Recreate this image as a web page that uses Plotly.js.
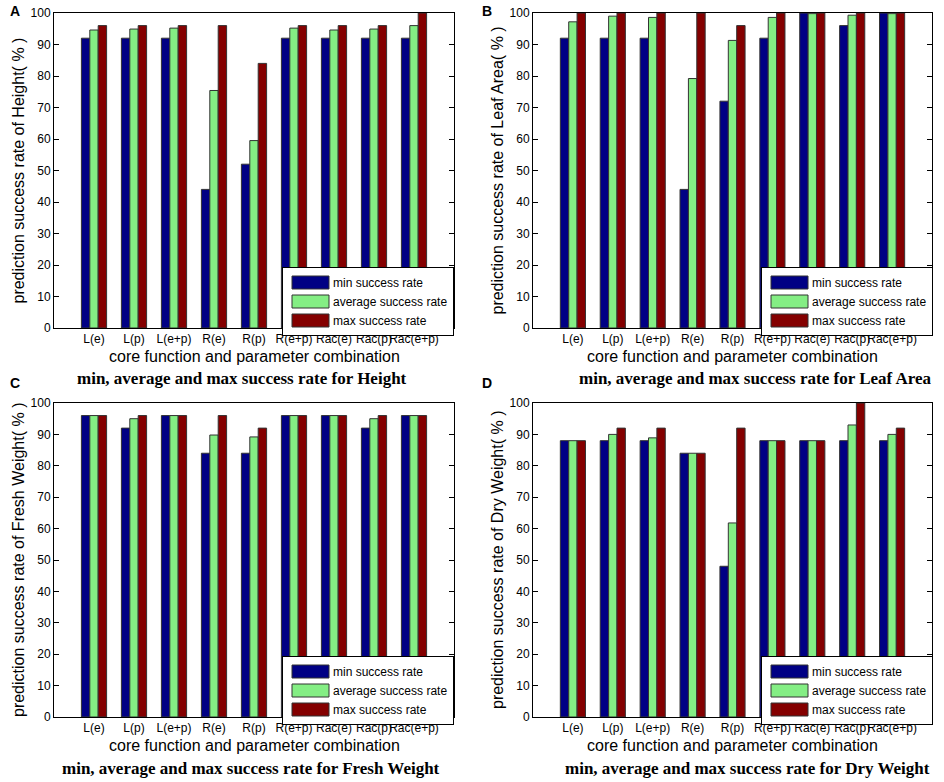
<!DOCTYPE html>
<html>
<head>
<meta charset="utf-8">
<script src="https://cdn.plot.ly/plotly-3.0.1.min.js"></script>
<style>html,body{margin:0;padding:0;background:#fff;}#chart{width:944px;height:782px;}</style>
</head>
<body>
<div id="chart"></div>
<script>
// ---- data ----
const categories = ["L(e)", "L(p)", "L(e+p)", "R(e)", "R(p)", "R(e+p)", "Rac(e)", "Rac(p)", "Rac(e+p)"];
const seriesNames = ["min success rate", "average success rate", "max success rate"];
const yTicks = [0, 10, 20, 30, 40, 50, 60, 70, 80, 90, 100];

const heightMin = [92, 92, 92, 44, 52, 92, 92, 92, 92];
const heightAvg = [94.6, 94.9, 95.2, 75.4, 59.5, 95.2, 94.6, 94.9, 96];
const heightMax = [96, 96, 96, 96, 84, 96, 96, 96, 100];

const leafMin = [92, 92, 92, 44, 72, 92, 100, 96, 100];
const leafAvg = [97.2, 99, 98.6, 79.2, 91.3, 98.6, 99.8, 99.3, 99.8];
const leafMax = [100, 100, 100, 100, 96, 100, 100, 100, 100];

const freshMin = [96, 92, 96, 84, 84, 96, 96, 92, 96];
const freshAvg = [96, 95, 96, 89.8, 89.2, 96, 96, 95, 96];
const freshMax = [96, 96, 96, 96, 92, 96, 96, 96, 96];

const dryMin = [88, 88, 88, 84, 48, 88, 88, 88, 88];
const dryAvg = [88, 90, 88.9, 84, 61.8, 88, 88, 93, 90];
const dryMax = [88, 92, 92, 84, 92, 88, 88, 100, 92];

const panelLetters = ["A", "B", "C", "D"];
const yTitles = ["prediction success rate of Height( % )", "prediction success rate of Leaf Area( % )",
                 "prediction success rate of Fresh Weight( % )", "prediction success rate of Dry Weight( % )"];
const xTitle = "core function and parameter combination";
const bottomTitles = ["min, average and max success rate for Height", "min, average and max success rate for Leaf Area",
                      "min, average and max success rate for Fresh Weight", "min, average and max success rate for Dry Weight"];

// ---- styling ----
const W = 944, H = 782;
const colors = ["#000084", "#84EE84", "#840000"];
const panels = [
  {vals: [heightMin, heightAvg, heightMax], px: [54, 454], py: [13, 328], leg: [282, 267], yt: 18, lt: [8, 11], bt: [242, 379]},
  {vals: [leafMin, leafAvg, leafMax],       px: [533, 932], py: [13, 328], leg: [761, 267], yt: 497, lt: [480, 11], bt: [755, 379]},
  {vals: [freshMin, freshAvg, freshMax],    px: [54, 454], py: [403, 717], leg: [282, 656], yt: 18, lt: [8, 383], bt: [251, 768]},
  {vals: [dryMin, dryAvg, dryMax],          px: [533, 932], py: [403, 717], leg: [761, 656], yt: 497, lt: [480, 383], bt: [747, 768]}
];

const font = "Arial, 'Liberation Sans', sans-serif";
const data = [];
const layout = {
  width: W, height: H,
  margin: {l: 0, r: 0, t: 0, b: 0},
  paper_bgcolor: "#fff", plot_bgcolor: "#fff",
  barmode: "group", bargap: 0.37, bargroupgap: 0,
  font: {family: font, color: "#000", size: 12},
  showlegend: true,
  annotations: []
};

panels.forEach((p, i) => {
  const n = i === 0 ? "" : String(i + 1);
  const xa = "x" + n, ya = "y" + n;
  const legName = i === 0 ? "legend" : "legend" + (i + 1);
  p.vals.forEach((v, s) => {
    data.push({
      type: "bar", x: categories, y: v, name: seriesNames[s],
      xaxis: xa, yaxis: ya, legend: legName,
      marker: {color: colors[s], line: {color: "#333", width: 1}},
      hoverinfo: "x+y+name"
    });
  });
  layout["xaxis" + n] = {
    domain: [p.px[0] / W, p.px[1] / W], anchor: ya,
    type: "category", range: [-1, 9],
    showline: true, linecolor: "#000", linewidth: 1, mirror: true,
    ticks: "", showgrid: false, zeroline: false, tickangle: 0,
    tickfont: {family: font, size: 12, color: "#000"},
    automargin: false, fixedrange: true
  };
  layout["yaxis" + n] = {
    domain: [1 - p.py[1] / H, 1 - p.py[0] / H], anchor: xa,
    range: [0, 100], tickvals: yTicks,
    showline: true, linecolor: "#000", linewidth: 1, mirror: "ticks",
    ticks: "inside", ticklen: 5, tickcolor: "#000",
    showgrid: false, zeroline: false,
    tickfont: {family: font, size: 12, color: "#000"},
    automargin: false, fixedrange: true
  };
  layout[legName] = {
    x: p.leg[0] / W, y: 1 - p.leg[1] / H, xanchor: "left", yanchor: "top",
    bgcolor: "#fff", bordercolor: "#000", borderwidth: 1,
    font: {family: font, size: 12, color: "#000"},
    itemwidth: 40, tracegroupgap: 0
  };
  layout.annotations.push({
    xref: "paper", yref: "paper", x: p.yt / W, y: 1 - (p.py[0] + p.py[1]) / 2 / H,
    text: yTitles[i], textangle: -90, showarrow: false,
    xanchor: "center", yanchor: "middle",
    font: {family: font, size: 16, color: "#000"}
  });
  layout.annotations.push({
    xref: "paper", yref: "paper", x: (p.px[0] + p.px[1]) / 2 / W, y: 1 - (p.py[1] + 28) / H,
    text: xTitle, showarrow: false,
    xanchor: "center", yanchor: "middle",
    font: {family: font, size: 16, color: "#000"}
  });
  layout.annotations.push({
    xref: "paper", yref: "paper", x: p.lt[0] / W, y: 1 - p.lt[1] / H,
    text: "<b>" + panelLetters[i] + "</b>", showarrow: false,
    xanchor: "left", yanchor: "middle",
    font: {family: font, size: 14, color: "#000"}
  });
  layout.annotations.push({
    xref: "paper", yref: "paper", x: p.bt[0] / W, y: 1 - p.bt[1] / H,
    text: "<b>" + bottomTitles[i] + "</b>", showarrow: false,
    xanchor: "center", yanchor: "middle",
    font: {family: "'Liberation Serif', 'Times New Roman', serif", size: 17, color: "#000"}
  });
});

let swatchD = null;
function widenSwatches(gd) {
  // MATLAB-style wide legend patches, ending just before each label
  const paths = gd.querySelectorAll("g.legendpoints path");
  if (!swatchD) {
    for (const pth of paths) {
      const tr = pth.closest("g.traces");
      const txt = tr && tr.querySelector("text.legendtext");
      if (!txt) continue;
      const pr = pth.getBoundingClientRect();
      if (!pr.width) continue;
      const tx = txt.getBoundingClientRect().left;
      const cx = pr.left + pr.width / 2;
      const x2 = tx - 4 - cx, x1 = x2 - 37;
      swatchD = "M" + x1.toFixed(1) + ",6.5H" + x2.toFixed(1) + "V-6.5H" + x1.toFixed(1) + "Z";
      break;
    }
  }
  if (!swatchD) return;
  paths.forEach(pth => {
    if (pth.getAttribute("d") !== swatchD) pth.setAttribute("d", swatchD);
  });
}

Plotly.newPlot("chart", data, layout, {displayModeBar: false, staticPlot: true}).then(gd => {
  widenSwatches(gd);
  const obs = new MutationObserver(() => widenSwatches(gd));
  obs.observe(gd, {subtree: true, childList: true, attributes: true, attributeFilter: ["d"]});
  setTimeout(() => widenSwatches(gd), 50);
});
</script>
</body>
</html>
